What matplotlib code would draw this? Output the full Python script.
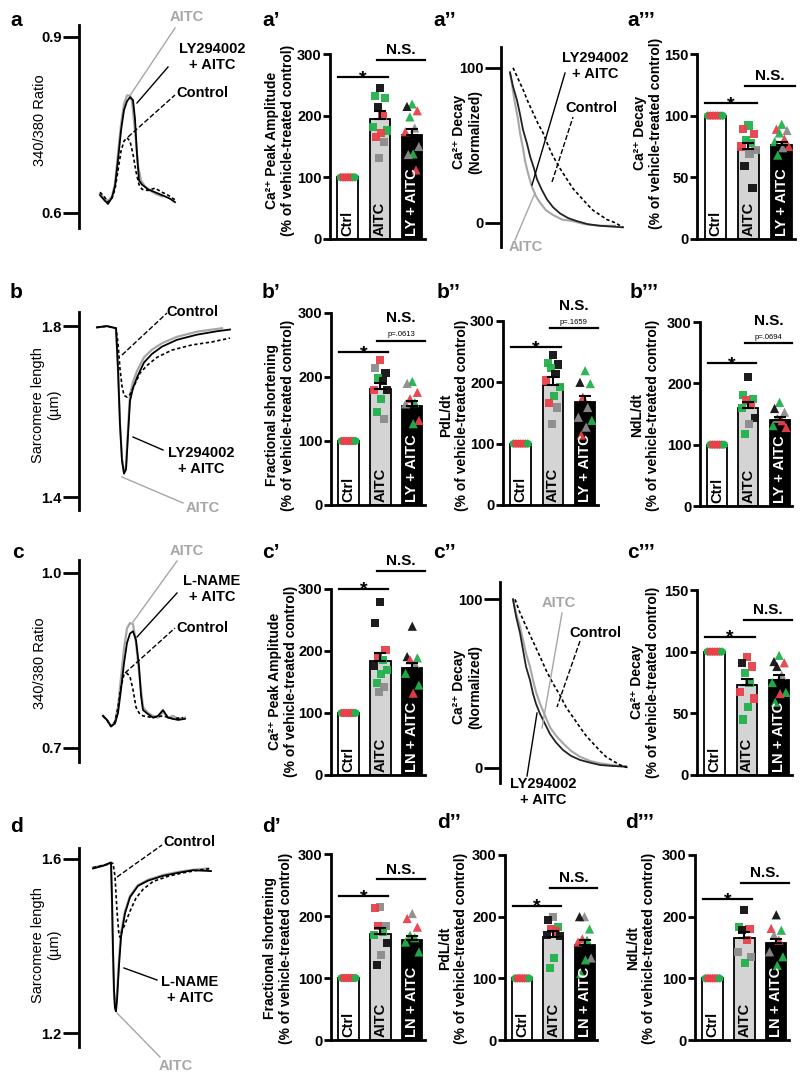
import numpy as np
import matplotlib
matplotlib.use('Agg')
import matplotlib.pyplot as plt
from matplotlib.lines import Line2D

plt.rcParams['font.family'] = ['Liberation Sans', 'DejaVu Sans']
plt.rcParams['font.weight'] = 'bold'

# ---------------- data ----------------
groups_ly = ["Ctrl", "AITC", "LY + AITC"]
groups_ln = ["Ctrl", "AITC", "LN + AITC"]
ctrl_pts = [100, 100, 100, 100, 100, 100, 100]
ctrl_cols = "grrrrrg"

# a' Ca peak amplitude
a1_mean = [100, 195, 169]; a1_sem = [0, 13, 9]
a1_aitc = [245, 232, 228, 214, 200, 182, 176, 172, 166, 158, 131]; a1_aitc_c = "kggkrggrrss"
a1_ly = [219, 215, 208, 198, 180, 174, 150, 138, 137, 112]; a1_ly_c = "gkrgsrsgsr"
# a''' Ca decay
a3_mean = [100, 73, 76]; a3_sem = [0, 5, 3]
a3_aitc = [92, 89, 85, 80, 78, 75, 72, 69, 59, 41]; a3_aitc_c = "grrggrsskk"
a3_ly = [93, 89, 88, 86, 81, 79, 75, 74, 68]; a3_ly_c = "grsgrgrsg"
# b' fractional shortening
b1_mean = [100, 182, 155]; b1_sem = [0, 8, 8]
b1_aitc = [226, 214, 206, 198, 194, 180, 179, 166, 146, 135]; b1_aitc_c = "rskgkrkggs"
b1_ly = [193, 190, 176, 166, 160, 158, 132, 127]; b1_ly_c = "gsrrgsrg"
# b'' PdL/dt
b2_mean = [100, 195, 168]; b2_sem = [0, 13, 10]
b2_aitc = [245, 232, 229, 224, 214, 203, 192, 177, 166, 159, 132]; b2_aitc_c = "kgkgkrggrss"
b2_ly = [219, 200, 198, 176, 159, 143, 138, 127, 114]; b2_ly_c = "gkgrssgsr"
# b''' NdL/dt
b3_mean = [100, 160, 140]; b3_sem = [0, 10, 5]
b3_aitc = [211, 181, 174, 172, 165, 160, 143, 133, 117]; b3_aitc_c = "kggrrgksg"
b3_ly = [169, 159, 153, 143, 139, 131, 128]; b3_ly_c = "gkssrgr"
# c' Ca peak amplitude (L-NAME)
c1_mean = [100, 184, 173]; c1_sem = [0, 12, 8]
c1_aitc = [279, 245, 202, 191, 186, 176, 170, 163, 148, 142, 134]; c1_aitc_c = "kkrrgkgggss"
c1_ly = [240, 191, 189, 186, 180, 164, 145, 132]; c1_ly_c = "kkgrsggr"
# c''' Ca decay (L-NAME)
c3_mean = [100, 73, 77]; c3_sem = [0, 5, 4]
c3_aitc = [96, 91, 88, 83, 75, 67, 62, 55, 45]; c3_aitc_c = "rkrggrrgg"
c3_ly = [97, 92, 91, 88, 81, 75, 67, 66, 59]; c3_ly_c = "gkrksggrg"
# d' fractional shortening (L-NAME)
d1_mean = [100, 171, 161]; d1_sem = [0, 10, 7]
d1_aitc = [215, 213, 184, 184, 175, 170, 157, 137, 121]; d1_aitc_c = "srsrggksk"
d1_ly = [204, 196, 182, 169, 165, 158, 142]; d1_ly_c = "srrgggg"
# d'' PdL/dt (L-NAME)
d2_mean = [100, 167, 154]; d2_sem = [0, 10, 8]
d2_aitc = [200, 194, 183, 180, 176, 170, 168, 133, 117]; d2_aitc_c = "skgrrkkgg"
d2_ly = [200, 200, 180, 164, 162, 159, 133, 130, 108]; d2_ly_c = "skgrgrsgg"
# d''' NdL/dt (L-NAME)
d3_mean = [100, 165, 157]; d3_sem = [0, 10, 7]
d3_aitc = [211, 183, 180, 178, 162, 143, 135, 125]; d3_aitc_c = "kgrkrssg"
d3_ly = [203, 181, 178, 170, 162, 143, 135, 121]; d3_ly_c = "krgsrsgg"

# ---- traces (time in arbitrary units) ----
a_ctrl_t = [0, 4, 8, 12, 15, 18, 21, 24, 27, 30, 33, 36, 39, 42, 48, 55, 62, 68, 75]
a_ctrl_y = [0.635, 0.628, 0.618, 0.625, 0.640, 0.672, 0.705, 0.722, 0.728, 0.722, 0.700, 0.670, 0.648, 0.640, 0.638, 0.642, 0.635, 0.630, 0.622]
a_aitc_t = [0, 4, 8, 12, 15, 18, 21, 24, 27, 30, 32, 35, 38, 41, 45, 50, 56, 62]
a_aitc_y = [0.632, 0.625, 0.620, 0.628, 0.650, 0.700, 0.750, 0.785, 0.800, 0.800, 0.790, 0.740, 0.680, 0.655, 0.645, 0.638, 0.632, 0.628]
a_ly_t = [0, 4, 8, 12, 15, 18, 21, 24, 27, 30, 33, 35, 37, 39, 42, 48, 55, 62, 70, 75]
a_ly_y = [0.630, 0.622, 0.615, 0.626, 0.645, 0.690, 0.740, 0.775, 0.790, 0.797, 0.792, 0.760, 0.700, 0.655, 0.648, 0.640, 0.635, 0.630, 0.624, 0.618]

a2_ly_t = [0, 3, 7, 10, 13, 17, 20, 24, 27, 32, 37, 43, 50, 58, 67, 78, 90, 113]
a2_ly_y = [97, 88, 79, 70, 60, 51, 43, 35, 28, 21, 15, 10, 6, 3, 1, -1, -2, -3]
a2_aitc_t = [0, 3, 5, 8, 10, 13, 15, 18, 22, 26, 30, 36, 43, 52, 63, 75, 90, 105]
a2_aitc_y = [97, 85, 77, 67, 58, 48, 40, 32, 23, 17, 13, 8, 5, 2, 1, -1, -2, -2]
a2_ctrl_t = [3, 8, 13, 18, 23, 28, 33, 38, 43, 50, 57, 63, 70, 77, 83, 90, 97, 105, 113]
a2_ctrl_y = [100, 93, 86, 78, 71, 64, 58, 50, 43, 35, 28, 22, 17, 12, 8, 5, 2, 0, -3]

b_ctrl_t = [0, 10, 19, 21, 23, 25, 27, 30, 33, 37, 43, 50, 60, 75, 95, 115, 133]
b_ctrl_y = [1.797, 1.800, 1.795, 1.760, 1.700, 1.660, 1.638, 1.634, 1.640, 1.660, 1.690, 1.708, 1.727, 1.744, 1.756, 1.763, 1.772]
b_aitc_t = [0, 10, 19, 21, 23, 25, 27, 29, 31, 33, 36, 40, 47, 55, 65, 80, 100, 125]
b_aitc_y = [1.797, 1.800, 1.795, 1.700, 1.570, 1.490, 1.460, 1.470, 1.560, 1.640, 1.670, 1.695, 1.727, 1.745, 1.760, 1.775, 1.787, 1.795]
b_ly_t = [0, 10, 19, 21, 23, 25, 27, 29, 31, 33, 36, 40, 47, 55, 65, 80, 100, 120, 133]
b_ly_y = [1.797, 1.800, 1.795, 1.700, 1.570, 1.485, 1.455, 1.465, 1.545, 1.625, 1.655, 1.680, 1.715, 1.735, 1.752, 1.768, 1.780, 1.788, 1.792]

c_ctrl_t = [0, 4, 8, 12, 15, 18, 21, 24, 27, 30, 33, 36, 40, 50, 60, 70, 80]
c_ctrl_y = [0.755, 0.748, 0.737, 0.745, 0.770, 0.805, 0.826, 0.828, 0.822, 0.800, 0.770, 0.760, 0.755, 0.752, 0.755, 0.750, 0.752]
c_aitc_t = [0, 4, 8, 12, 15, 18, 21, 24, 27, 30, 33, 36, 40, 45, 50, 55, 60, 65, 70, 75, 82]
c_aitc_y = [0.755, 0.748, 0.737, 0.745, 0.770, 0.820, 0.870, 0.905, 0.914, 0.912, 0.880, 0.830, 0.770, 0.760, 0.755, 0.752, 0.762, 0.752, 0.755, 0.750, 0.752]
c_ln_t = [0, 4, 8, 12, 15, 18, 21, 24, 27, 30, 33, 36, 38, 40, 45, 50, 55, 60, 65, 70, 75, 82]
c_ln_y = [0.755, 0.748, 0.737, 0.742, 0.760, 0.800, 0.845, 0.880, 0.896, 0.900, 0.885, 0.840, 0.790, 0.765, 0.758, 0.752, 0.755, 0.765, 0.752, 0.750, 0.748, 0.750]

c2_ly_t = [0, 3, 7, 10, 13, 17, 20, 23, 27, 32, 37, 43, 50, 58, 67, 77, 87, 100, 113]
c2_ly_y = [100, 90, 80, 70, 60, 52, 44, 38, 32, 26, 20, 15, 10.5, 7, 4.6, 3, 1.6, 1, 0.6]
c2_aitc_t = [0, 3, 7, 10, 13, 17, 20, 23, 27, 32, 37, 43, 50, 58, 67, 77, 87, 100, 113]
c2_aitc_y = [100, 92, 84, 76, 68, 60, 52, 45, 38, 31, 24, 19, 14.5, 10, 6.5, 4, 2.6, 1.5, 0.6]
c2_ctrl_t = [2, 7, 13, 20, 27, 33, 40, 47, 53, 60, 67, 73, 80, 87, 93, 100, 107, 115]
c2_ctrl_y = [100, 92, 84, 75, 66, 58, 50, 43, 36, 30, 24, 19, 14.5, 10, 6.5, 4, 1.6, 0]

d_ctrl_t = [0, 10, 20, 22, 24, 26, 27, 29, 32, 37, 43, 50, 60, 75, 90, 105, 118]
d_ctrl_y = [1.580, 1.585, 1.590, 1.560, 1.480, 1.425, 1.420, 1.435, 1.450, 1.480, 1.510, 1.530, 1.548, 1.560, 1.568, 1.574, 1.578]
d_aitc_t = [0, 10, 18, 19, 20, 21, 22, 23, 24, 26, 28, 32, 37, 45, 55, 70, 85, 100, 115]
d_aitc_y = [1.580, 1.585, 1.590, 1.500, 1.380, 1.290, 1.255, 1.262, 1.290, 1.370, 1.430, 1.480, 1.515, 1.540, 1.552, 1.563, 1.570, 1.575, 1.578]
d_ln_t = [0, 10, 18, 19, 20, 21, 22, 23, 24, 26, 28, 32, 37, 45, 55, 70, 85, 100, 118]
d_ln_y = [1.578, 1.584, 1.592, 1.510, 1.390, 1.300, 1.258, 1.250, 1.275, 1.355, 1.420, 1.475, 1.512, 1.538, 1.550, 1.561, 1.568, 1.574, 1.572]

# ---------------- figure helpers ----------------
W, H = 800, 1081
fig = plt.figure(figsize=(8, 10.81), dpi=100)
COL = {'r': '#e8414b', 'g': '#22b14c', 'k': '#111111', 's': '#8c8c8c'}
GRAY = '#a6a6a6'
TICKFS = 10.5


def px_axes(x0, y0, x1, y1):
    return fig.add_axes([x0 / W, 1 - y1 / H, (x1 - x0) / W, (y1 - y0) / H])


def ftext(x, y, s, **kw):
    kw.setdefault('ha', 'center')
    kw.setdefault('va', 'center')
    fig.text(x / W, 1 - y / H, s, **kw)


def fline(x0, y0, x1, y1, color='black', ls='-', lw=1.0):
    fig.add_artist(Line2D([x0 / W, x1 / W], [1 - y0 / H, 1 - y1 / H],
                          color=color, ls=ls, lw=lw))


def trace_axes(xs, yt, yb, xr, origin, ylim, yticks, ytl):
    ax = px_axes(xs, yt, xr, yb)
    ax.set_xlim(xs - origin, xr - origin)
    ax.set_ylim(*ylim)
    for s in ['top', 'right', 'bottom']:
        ax.spines[s].set_visible(False)
    ax.spines['left'].set_linewidth(2)
    ax.set_xticks([])
    ax.set_yticks(yticks)
    ax.set_yticklabels(ytl, fontweight='bold')
    ax.tick_params(axis='y', length=11.5, width=2, direction='out', pad=1, labelsize=TICKFS)
    ax.patch.set_alpha(0)
    return ax


OFFS = [0.0, -0.16, 0.16, -0.07, 0.08, -0.21, 0.21, 0.03, -0.12, 0.12, -0.03]


def bar_axes(xs, yt, yb, xr, means, sems, aitc, aitc_c, ly, ly_c, labels,
             ymax, yticks, star_y, ns_y, ptxt=None):
    ax = px_axes(xs, yt, xr, yb)
    ax.set_xlim(-0.55, 2.4)
    ax.set_ylim(0, ymax)
    ax.bar([0, 1, 2], means, width=0.64, color=['white', '#d4d4d4', 'black'],
           edgecolor='black', linewidth=1.3, zorder=1)
    cx = np.linspace(-0.22, 0.22, len(ctrl_pts))
    ax.scatter(cx, ctrl_pts, s=38, marker='h', c=[COL[c] for c in ctrl_cols],
               zorder=3, clip_on=False, linewidths=0)
    ax.scatter(1 + np.array(OFFS[:len(aitc)]), aitc, s=34, marker='s',
               c=[COL[c] for c in aitc_c], zorder=3, clip_on=False, linewidths=0, alpha=0.95)
    ax.scatter(2 + np.array(OFFS[:len(ly)]), ly, s=44, marker='^',
               c=[COL[c] for c in ly_c], zorder=3, clip_on=False, linewidths=0, alpha=0.95)
    ax.errorbar([1, 2], means[1:], yerr=[[0, 0], sems[1:]], fmt='none', ecolor='black',
                capsize=4, elinewidth=1.5, capthick=1.5, zorder=4)
    tcol = ['black', 'black', 'white']
    for i, lab in enumerate(labels):
        ax.text(i, 0.018, lab, rotation=90, ha='center', va='bottom', color=tcol[i],
                fontsize=10.5, fontweight='bold', transform=ax.get_xaxis_transform(), zorder=5)
    for s in ['top', 'right']:
        ax.spines[s].set_visible(False)
    ax.spines['left'].set_linewidth(2)
    ax.spines['bottom'].set_linewidth(2)
    ax.set_xticks([])
    ax.set_yticks(yticks)
    ax.set_yticklabels([str(v) for v in yticks], fontweight='bold')
    ax.tick_params(axis='y', length=5, width=2, direction='out', pad=1, labelsize=TICKFS)
    ax.patch.set_alpha(0)
    ax.plot([-0.3, 1.25], [star_y, star_y], color='black', lw=1.6, clip_on=False)
    ax.annotate('*', xy=(0.47, star_y), xytext=(0, -4), textcoords='offset points',
                ha='center', va='baseline', fontsize=14, fontweight='bold',
                annotation_clip=False)
    ax.plot([0.9, 2.4], [ns_y, ns_y], color='black', lw=1.6, clip_on=False)
    if ptxt:
        ax.annotate(ptxt, xy=(1.65, ns_y), xytext=(0, 2), textcoords='offset points',
                    ha='center', va='bottom', fontsize=5.5, fontweight='normal',
                    annotation_clip=False)
        ax.annotate('N.S.', xy=(1.65, ns_y), xytext=(0, 11), textcoords='offset points',
                    ha='center', va='bottom', fontsize=11, fontweight='bold',
                    annotation_clip=False)
    else:
        ax.annotate('N.S.', xy=(1.65, ns_y), xytext=(0, 2), textcoords='offset points',
                    ha='center', va='bottom', fontsize=11, fontweight='bold',
                    annotation_clip=False)
    return ax


def ylab2(x, y, s):
    ftext(x, y, s, rotation=90, fontsize=10, fontweight='bold', linespacing=1.12,
          multialignment='center')


# ---------------- row a ----------------
ax = trace_axes(79, 25, 228, 250, 100, (0.574, 0.920), [0.6, 0.9], ['0.6', '0.9'])
ax.plot(a_aitc_t, a_aitc_y, color=GRAY, lw=1.6)
ax.plot(a_ly_t, a_ly_y, color='black', lw=1.3)
ax.plot(a_ctrl_t, a_ctrl_y, color='black', lw=1.2, ls=(0, (2, 1.5)))
ftext(40, 120, '340/380 Ratio', rotation=90, fontsize=10.5, fontweight='normal')
fline(131, 94, 175, 28, GRAY); fline(137, 103, 168, 67); fline(128, 137, 175, 95, ls='--')
ftext(187, 17, 'AITC', color=GRAY, fontsize=10.5)
ftext(212, 57, 'LY294002\n+ AITC', fontsize=10.5, linespacing=1.25)
ftext(202, 93, 'Control', fontsize=10.5)

bar_axes(330, 54, 239, 425, a1_mean, a1_sem, a1_aitc, a1_aitc_c, a1_ly, a1_ly_c,
         groups_ly, 300, [0, 100, 200, 300], 262, 291)
ylab2(280, 140, 'Ca²⁺ Peak Amplitude\n(% of vehicle-treated control)')

ax = trace_axes(501, 47, 247, 640, 510, (-15.7, 113.4), [0, 100], ['0', '100'])
ax.plot(a2_aitc_t, a2_aitc_y, color=GRAY, lw=1.5)
ax.plot(a2_ly_t, a2_ly_y, color='#222222', lw=1.3)
ax.plot(a2_ctrl_t, a2_ctrl_y, color='black', lw=1.2, ls=(0, (2, 1.5)))
ftext(467, 132, 'Ca²⁺ Decay\n(Normalized)', rotation=90, fontsize=10, linespacing=1.15)
fline(532, 185, 565, 73); fline(552, 182, 573, 117, ls='--'); fline(535, 193, 515, 240, GRAY)
ftext(595, 66, 'LY294002\n+ AITC', fontsize=10.5, linespacing=1.25)
ftext(591, 108, 'Control', fontsize=10.5)
ftext(526, 247, 'AITC', color=GRAY, fontsize=10.5)

bar_axes(697, 54, 239, 795, a3_mean, a3_sem, a3_aitc, a3_aitc_c, a3_ly, a3_ly_c,
         groups_ly, 150, [0, 50, 100, 150], 110, 124)
ylab2(648, 133, 'Ca²⁺ Decay\n(% of vehicle-treated control)')

# ---------------- row b ----------------
ax = trace_axes(79, 312, 510, 250, 97, (1.37, 1.833), [1.4, 1.8], ['1.4', '1.8'])
ax.plot(b_aitc_t, b_aitc_y, color=GRAY, lw=1.6)
ax.plot(b_ly_t, b_ly_y, color='black', lw=1.3)
ax.plot(b_ctrl_t, b_ctrl_y, color='black', lw=1.2, ls=(0, (2, 1.5)))
ftext(46, 405, 'Sarcomere length\n(µm)', rotation=90, fontsize=10.5, fontweight='normal',
      linespacing=1.2)
fline(122, 355, 167, 313, ls='--'); fline(133, 437, 163, 450); fline(122, 477, 183, 503, GRAY)
ftext(192, 312, 'Control', fontsize=10.5)
ftext(201, 461, 'LY294002\n+ AITC', fontsize=10.5, linespacing=1.25)
ftext(203, 508, 'AITC', color=GRAY, fontsize=10.5)

bar_axes(331, 313, 505, 425, b1_mean, b1_sem, b1_aitc, b1_aitc_c, b1_ly, b1_ly_c,
         groups_ly, 300, [0, 100, 200, 300], 239, 257, 'p=.0613')
ylab2(280, 415, 'Fractional shortening\n(% of vehicle-treated control)')
bar_axes(503, 321, 505, 598, b2_mean, b2_sem, b2_aitc, b2_aitc_c, b2_ly, b2_ly_c,
         groups_ly, 300, [0, 100, 200, 300], 257, 288, 'p=.1659')
ylab2(454, 415, 'PdL/dt\n(% of vehicle-treated control)')
bar_axes(700, 322, 506, 792, b3_mean, b3_sem, b3_aitc, b3_aitc_c, b3_ly, b3_ly_c,
         groups_ly, 300, [0, 100, 200, 300], 233, 265, 'p=.0694')
ylab2(645, 415, 'NdL/dt\n(% of vehicle-treated control)')

# ---------------- row c ----------------
ax = trace_axes(79, 560, 762, 250, 103, (0.676, 1.022), [0.7, 1.0], ['0.7', '1.0'])
ax.plot(c_aitc_t, c_aitc_y, color=GRAY, lw=1.6)
ax.plot(c_ln_t, c_ln_y, color='black', lw=1.3)
ax.plot(c_ctrl_t, c_ctrl_y, color='black', lw=1.2, ls=(0, (2, 1.5)))
ftext(40, 663, '340/380 Ratio', rotation=90, fontsize=10.5, fontweight='normal')
fline(133, 622, 177, 561, GRAY); fline(137, 637, 177, 593); fline(125, 673, 175, 628, ls='--')
ftext(187, 551, 'AITC', color=GRAY, fontsize=10.5)
ftext(212, 589, 'L-NAME\n+ AITC', fontsize=10.5, linespacing=1.25)
ftext(202, 628, 'Control', fontsize=10.5)

bar_axes(331, 589, 775, 425, c1_mean, c1_sem, c1_aitc, c1_aitc_c, c1_ly, c1_ly_c,
         groups_ln, 300, [0, 100, 200, 300], 300, 329)
ylab2(283, 681, 'Ca²⁺ Peak Amplitude\n(% of vehicle-treated control)')

ax = trace_axes(500, 582, 783, 640, 513, (-9.1, 110.3), [0, 100], ['0', '100'])
ax.plot(c2_aitc_t, c2_aitc_y, color=GRAY, lw=1.5)
ax.plot(c2_ly_t, c2_ly_y, color='#222222', lw=1.3)
ax.plot(c2_ctrl_t, c2_ctrl_y, color='black', lw=1.2, ls=(0, (2, 1.5)))
ftext(467, 687, 'Ca²⁺ Decay\n(Normalized)', rotation=90, fontsize=10, linespacing=1.15)
fline(562, 613, 542, 728, GRAY); fline(580, 641, 557, 707, ls='--'); fline(527, 776, 537, 713)
ftext(559, 603, 'AITC', color=GRAY, fontsize=10.5)
ftext(595, 633, 'Control', fontsize=10.5)
ftext(543, 792, 'LY294002\n+ AITC', fontsize=10.5, linespacing=1.25)

bar_axes(697, 590, 775, 792, c3_mean, c3_sem, c3_aitc, c3_aitc_c, c3_ly, c3_ly_c,
         groups_ln, 150, [0, 50, 100, 150], 112, 126)
ylab2(645, 682, 'Ca²⁺ Decay\n(% of vehicle-treated control)')

# ---------------- row d ----------------
ax = trace_axes(79, 848, 1047, 250, 93, (1.168, 1.625), [1.2, 1.6], ['1.2', '1.6'])
ax.plot(d_aitc_t, d_aitc_y, color=GRAY, lw=1.6)
ax.plot(d_ln_t, d_ln_y, color='black', lw=1.3)
ax.plot(d_ctrl_t, d_ctrl_y, color='black', lw=1.2, ls=(0, (2, 1.5)))
ftext(46, 945, 'Sarcomere length\n(µm)', rotation=90, fontsize=10.5, fontweight='normal',
      linespacing=1.2)
fline(117, 877, 162, 845, ls='--'); fline(124, 968, 157, 980); fline(117, 1013, 160, 1057, GRAY)
ftext(189, 842, 'Control', fontsize=10.5)
ftext(190, 990, 'L-NAME\n+ AITC', fontsize=10.5, linespacing=1.25)
ftext(176, 1066, 'AITC', color=GRAY, fontsize=10.5)

bar_axes(331, 854, 1040, 425, d1_mean, d1_sem, d1_aitc, d1_aitc_c, d1_ly, d1_ly_c,
         groups_ln, 300, [0, 100, 200, 300], 232, 259)
ylab2(278, 948, 'Fractional shortening\n(% of vehicle-treated control)')
bar_axes(505, 855, 1040, 597, d2_mean, d2_sem, d2_aitc, d2_aitc_c, d2_ly, d2_ly_c,
         groups_ln, 300, [0, 100, 200, 300], 218, 247)
ylab2(453, 948, 'PdL/dt\n(% of vehicle-treated control)')
bar_axes(695, 855, 1040, 789, d3_mean, d3_sem, d3_aitc, d3_aitc_c, d3_ly, d3_ly_c,
         groups_ln, 300, [0, 100, 200, 300], 228, 255)
ylab2(641, 948, 'NdL/dt\n(% of vehicle-treated control)')

# ---------------- panel letters ----------------
letters = [('a', 10, 20), ('a’', 262, 20), ('a’’', 433, 20), ('a’’’', 627, 20),
           ('b', 10, 292), ('b’', 262, 292), ('b’’', 437, 292), ('b’’’', 630, 292),
           ('c', 12, 553), ('c’', 262, 553), ('c’’', 433, 553), ('c’’’', 627, 553),
           ('d', 10, 826), ('d’', 262, 826), ('d’’', 437, 822), ('d’’’', 625, 822)]
for s, x, y in letters:
    ftext(x, y, s, ha='left', fontsize=15, fontweight='bold')

fig.savefig('out.png', dpi=100)
